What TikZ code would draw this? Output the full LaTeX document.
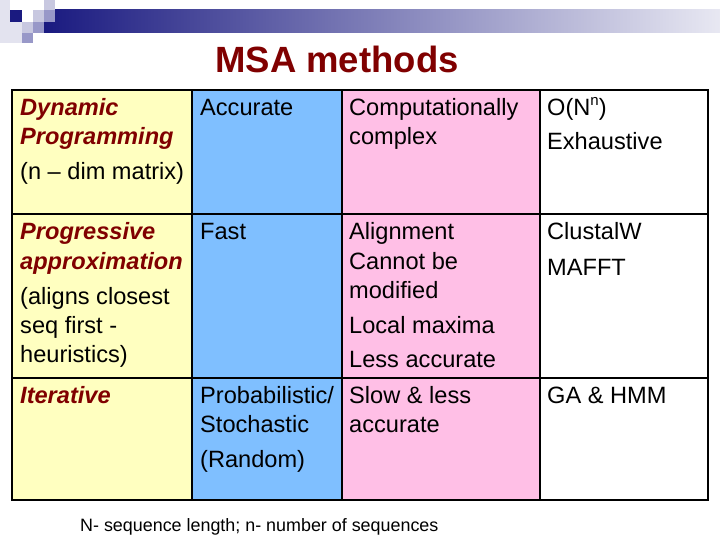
\documentclass[tikz,border=0pt]{standalone}
\usepackage{fontspec}
\setmainfont{Liberation Sans}
\definecolor{cy}{HTML}{FFFFC0}
\definecolor{cb}{HTML}{7FBFFF}
\definecolor{cp}{HTML}{FFBFE6}
\definecolor{dred}{HTML}{800000}
\definecolor{navy}{HTML}{1A1A80}
\definecolor{sq}{HTML}{C8C8E0}
\definecolor{sqm}{HTML}{9898C8}
\begin{document}
\begin{tikzpicture}[x=1pt,y=-1pt,
  t/.style={anchor=base west,inner sep=0pt,font=\fontsize{23.6}{28}\selectfont},
  h/.style={t,font=\fontsize{23.6}{28}\selectfont\bfseries\itshape,text=dred}]
\useasboundingbox (0,0) rectangle (720,540);
\fill[white] (0,0) rectangle (720,540);
% decoration
\fill[sq!50!white] (0,0) rectangle (10,43);
\fill[sq!50!white] (10,22) rectangle (22,43);
\shade[left color=navy,right color=white!90!navy] (44,10) rectangle (720,33);
\fill[sq] (44,0) rectangle (55,10);
\fill[sq] (33,10) rectangle (44,22);
\fill[sqm] (44,10) rectangle (55,22);
\fill[navy] (10,10) rectangle (22,22);
\fill[sq] (22,22) rectangle (33,33);
\fill[sqm] (33,22) rectangle (44,33);
\fill[sqm] (22,33) rectangle (33,43);
\node[anchor=base,inner sep=0pt,font=\fontsize{36.5}{40}\selectfont\bfseries,text=dred] (title) at (337,73) {MSA methods};
% table
\fill[cy] (12,90) rectangle (192,500);
\fill[cb] (192,90) rectangle (342,500);
\fill[cp] (342,90) rectangle (540,500);
\draw[line width=1.2pt] (192,90) -- (192,500) (342,90) -- (342,500) (540,90) -- (540,500)
  (12,214) -- (708,214) (12,378) -- (708,378);
\draw[line width=2.5pt] (12,90) rectangle (708,500);
% col1
\node[h] (a1) at (20,116) {Dynamic};
\node[h] (a2) at (20,145) {Programming};
\node[t] (a3) at (20,180) {(n – dim matrix)};
\node[h] (b1) at (20,240) {Progressive};
\node[h] (b2) at (20,269) {approximation};
\node[t] (b3) at (20,304) {(aligns closest};
\node[t] (b4) at (20,333) {seq first -};
\node[t] (b5) at (20,362) {heuristics)};
\node[h] (c1) at (20,403) {Iterative};
% col2
\node[t] (d1) at (200,116) {Accurate};
\node[t] (d2) at (200,240) {Fast};
\node[t] (d3) at (200,403) {Probabilistic/};
\node[t] (d4) at (200,432) {Stochastic};
\node[t] (d5) at (200,467) {(Random)};
% col3
\node[t] (e1) at (349,116) {Computationally};
\node[t] (e2) at (349,145) {complex};
\node[t] (e3) at (349,240) {Alignment};
\node[t] (e4) at (349,269) {Cannot be};
\node[t] (e5) at (349,298) {modified};
\node[t] (e6) at (349,333) {Local maxima};
\node[t] (e7) at (349,367) {Less accurate};
\node[t] (e8) at (349,403) {Slow \& less};
\node[t] (e9) at (349,432) {accurate};
% col4
\node[t] (f1) at (547,116) {O(N\raisebox{0.45em}{\fontsize{15}{16}\selectfont n})};
\node[t] (f2) at (547,150) {Exhaustive};
\node[t] (f3) at (547,240) {ClustalW};
\node[t] (f4) at (547,275) {MAFFT};
\node[t] (f5) at (547,403) {GA \& HMM};
\node[t,font=\fontsize{17.9}{20}\selectfont] (note) at (80,531) {N- sequence length; n- number of sequences};
\end{tikzpicture}
\end{document}
